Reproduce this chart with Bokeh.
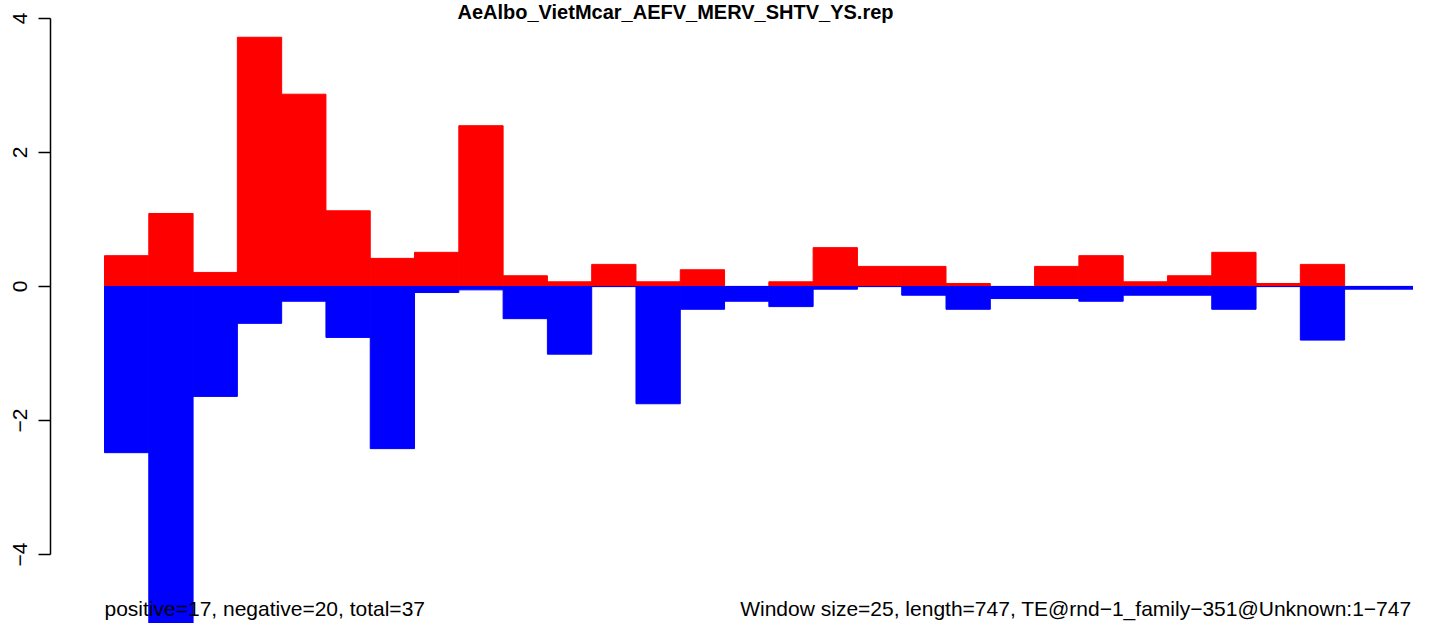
import numpy as np
from bokeh.plotting import figure
from bokeh.models import Range1d, FixedTicker, Label
from bokeh.embed import file_html
from bokeh.resources import INLINE

# ---------------- data ----------------
title_text = "AeAlbo_VietMcar_AEFV_MERV_SHTV_YS.rep"
left_note = "positive=17, negative=20, total=37"
right_note = "Window size=25, length=747, TE@rnd\u22121_family\u2212351@Unknown:1\u2212747"
window_size = 25
positive = [0.46, 1.09, 0.21, 3.72, 2.87, 1.13, 0.42, 0.51, 2.40, 0.16,
            0.07, 0.33, 0.07, 0.25, 0.00, 0.07, 0.58, 0.30, 0.30, 0.045,
            0.00, 0.30, 0.46, 0.07, 0.16, 0.51, 0.045, 0.33, 0.00, 0.00]
negative = [-2.48, -5.35, -1.64, -0.55, -0.22, -0.76, -2.42, -0.09, -0.05, -0.48,
            -1.01, 0.00, -1.75, -0.34, -0.22, -0.30, -0.04, 0.00, -0.13, -0.34,
            -0.18, -0.18, -0.22, -0.13, -0.13, -0.34, 0.00, -0.80, -0.04, -0.04]
y_ticks = [-4, -2, 0, 2, 4]
y_tick_labels = ["\u22124", "\u22122", "0", "2", "4"]

# ---------------- layout ----------------
W, H = 1413, 623
LEFT = 50
px_x = 44.29 / window_size
px_y = 67.0
x0_px = 104 - LEFT
x_start = -x0_px / px_x
x_end = x_start + (W - LEFT) / px_x
zero_px = 286
y_end = zero_px / px_y
y_start = -(H - zero_px) / px_y

starts = np.arange(len(positive)) * window_size
centers = starts + window_size / 2

p = figure(width=W, height=H, x_range=Range1d(x_start, x_end),
           y_range=Range1d(y_start, y_end), output_backend="svg",
           toolbar_location=None, x_axis_location=None,
           min_border_left=LEFT, min_border_right=0, min_border_top=0,
           min_border_bottom=0, outline_line_color=None,
           background_fill_color="white", border_fill_color="white")
p.grid.visible = False

# zero reference line under the bars
p.line(x=[starts[0], starts[-1] + window_size], y=[0, 0],
       line_color="#A0A0A0", line_width=1.5)

p.vbar(x=centers, width=window_size, top=positive, bottom=0,
       fill_color="#FF0000", line_color="#FF0000", line_width=1)
p.vbar(x=centers, width=window_size, top=0, bottom=negative,
       fill_color="#0000FF", line_color="#0000FF", line_width=1)

ax = p.yaxis[0]
ax.ticker = FixedTicker(ticks=y_ticks)
ax.major_label_overrides = {t: l for t, l in zip(y_ticks, y_tick_labels)}
ax.bounds = (-4, 4)
ax.major_tick_out = 12
ax.major_tick_in = 0
ax.minor_tick_out = 0
ax.minor_tick_in = 0
ax.major_label_orientation = "vertical"
ax.major_label_standoff = 12
ax.major_label_text_font = "Liberation Sans"
ax.major_label_text_font_size = "21px"
ax.major_label_text_color = "black"
ax.axis_line_width = 1.5
ax.axis_line_color = "black"
ax.major_tick_line_width = 1.5
ax.major_tick_line_color = "black"

p.add_layout(Label(x=(675 - LEFT), y=H - 11, x_units="screen", y_units="screen",
                   text=title_text, text_align="center", text_baseline="alphabetic",
                   text_font="Liberation Sans", text_font_style="bold",
                   text_font_size="20px", text_color="black"))
p.add_layout(Label(x=x0_px, y=15, x_units="screen", y_units="screen",
                   text=left_note, text_align="left", text_baseline="alphabetic",
                   text_font="Liberation Sans", text_font_size="21px",
                   text_color="black"))
p.add_layout(Label(x=W - LEFT - 2, y=15, x_units="screen", y_units="screen",
                   text=right_note, text_align="right", text_baseline="alphabetic",
                   text_font="Liberation Sans", text_font_size="21px",
                   text_color="black"))

open("out.html", "w").write(file_html(p, INLINE))
